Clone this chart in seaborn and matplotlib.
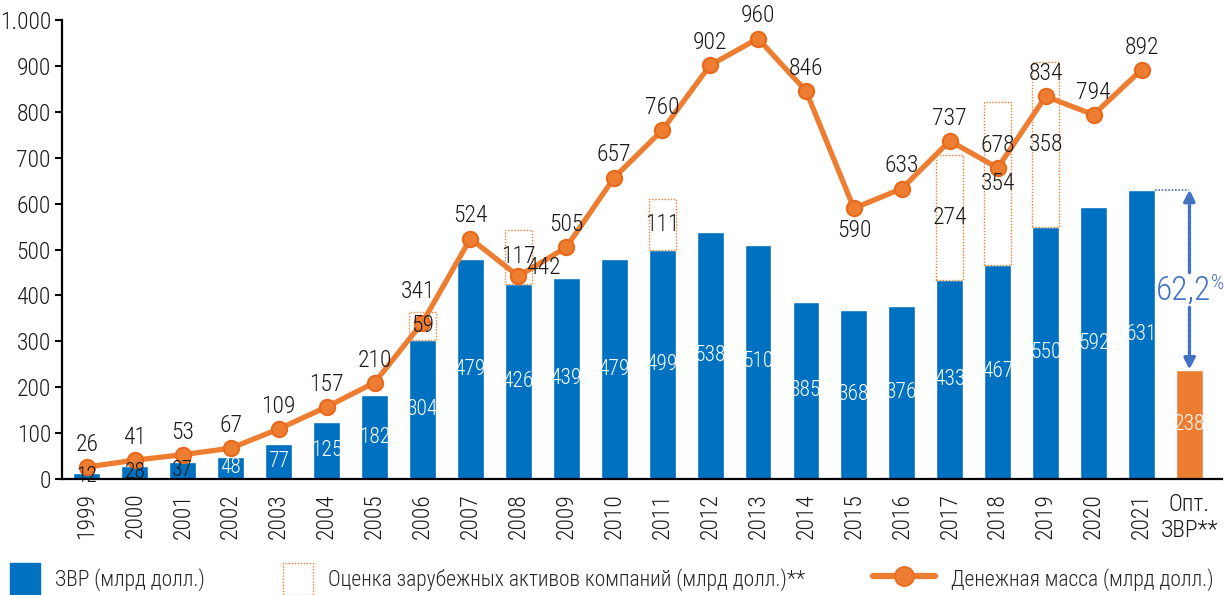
import matplotlib
matplotlib.use("Agg")
import matplotlib.pyplot as plt
from matplotlib.lines import Line2D
from matplotlib.patches import Patch, Rectangle
from matplotlib.ticker import FuncFormatter
import seaborn as sns
import pandas as pd

# Categories (years plus the optimal reserves bar)
categories = ["1999", "2000", "2001", "2002", "2003", "2004", "2005", "2006", "2007",
              "2008", "2009", "2010", "2011", "2012", "2013", "2014", "2015", "2016",
              "2017", "2018", "2019", "2020", "2021", "Опт.\nЗВР**"]
# International reserves, bn USD (last value = optimal reserves)
reserves = [12, 28, 37, 48, 77, 125, 182, 304, 479, 426, 439, 479, 499, 538, 510,
            385, 368, 376, 433, 467, 550, 592, 631, 238]
# Money supply, bn USD (1999-2021)
money = [26, 41, 53, 67, 109, 157, 210, 341, 524, 442, 505, 657, 760, 902, 960,
         846, 590, 633, 737, 678, 834, 794, 892]
# Estimated foreign assets of companies, bn USD
asset_years = ["2006", "2008", "2011", "2017", "2018", "2019"]
asset_values = [59, 117, 111, 274, 354, 358]
opt_share = "62,2"

BLUE = "#0070C0"
ORANGE = "#ED7D31"
ORANGE_EDGE = "#E8691C"
ARROW = "#4472C4"
INK = "#1a1a1a"

sns.set_theme(style="white")
plt.rcParams["font.family"] = ["Roboto Condensed", "DejaVu Sans"]
plt.rcParams["font.weight"] = 300
FS = 17

fig = plt.figure(figsize=(12.25, 5.95), dpi=100)
ax = fig.add_axes([0.0506, 0.195, 0.9470, 0.771])

df = pd.DataFrame({"cat": categories, "val": reserves})
palette = [BLUE] * (len(categories) - 1) + [ORANGE]
sns.barplot(data=df, x="cat", y="val", hue="cat", palette=palette, legend=False,
            width=0.56, saturation=1, ax=ax, zorder=2)

pos = {c: i for i, c in enumerate(categories)}

# Dotted boxes for company foreign assets, stacked on top of reserves
for yr, v in zip(asset_years, asset_values):
    i = pos[yr]
    base = reserves[i]
    ax.add_patch(Rectangle((i - 0.28, base), 0.56, v, fill=False, edgecolor=ORANGE,
                           linestyle=(0, (1, 1.2)), linewidth=1.0, zorder=3))
    ax.text(i, base + v / 2, str(v), ha="center", va="center", fontsize=FS,
            color=INK, zorder=6)

# Money supply line
line_df = pd.DataFrame({"x": list(range(len(money))), "y": money})
sns.lineplot(data=line_df, x="x", y="y", color=ORANGE, linewidth=3.8, marker="o",
             markersize=11, markerfacecolor=ORANGE, markeredgecolor=ORANGE_EDGE,
             markeredgewidth=1.5, sort=False, ax=ax, zorder=5)

# Money supply labels
for i, v in enumerate(money):
    dx, dy, va = 0, 8, "bottom"
    if categories[i] == "2008":
        dx, dy, va = 18, 6, "center"
    elif categories[i] == "2015":
        dx, dy, va = 0, -8, "top"
    elif categories[i] == "2006":
        dx, dy = -3, 14
    ax.annotate(str(v), (i, v), xytext=(dx, dy), textcoords="offset points",
                ha="center", va=va, fontsize=FS, color=INK, zorder=6)

# Reserves labels
for i, v in enumerate(reserves):
    col = INK if v < 40 else "white"
    ax.text(i, v / 2, str(v), ha="center", va="center", fontsize=15.5,
            color=col, zorder=6)

# Gap between 2021 reserves and optimal level
i21 = pos["2021"]
iopt = pos[categories[-1]]
top_v, low_v = reserves[i21], reserves[iopt]
ax.plot([i21 + 0.28, iopt], [top_v, top_v], color=ARROW,
        linestyle=(0, (1, 1)), linewidth=1.2, zorder=4)
txt_v = 410
for tail, head in ((txt_v + 40, top_v), (txt_v - 36, low_v)):
    ax.annotate("", xy=(iopt, head), xytext=(iopt, tail),
                arrowprops=dict(arrowstyle="-|>", color=ARROW, linestyle=(0, (1, 0.6)),
                                linewidth=2.4, mutation_scale=17, shrinkA=0, shrinkB=0))
ax.annotate(opt_share, (iopt, txt_v), xytext=(-4, 0), textcoords="offset points",
            ha="center", va="center", fontsize=24, color=ARROW)
ax.annotate("%", (iopt, txt_v), xytext=(15.5, 5), textcoords="offset points",
            ha="left", va="center", fontsize=15, color=ARROW)

# Axes
ax.set_xlim(-0.52, len(categories) - 0.32)
ax.set_ylim(0, 1000)
ax.set_yticks(range(0, 1001, 100))
ax.yaxis.set_major_formatter(FuncFormatter(lambda v, p: f"{int(v):,}".replace(",", ".")))
ax.set_xticks(range(len(categories)))
ax.set_xticklabels(categories)
for lab in ax.get_xticklabels():
    lab.set_rotation(90)
    lab.set_va("top")
    lab.set_ha("center")
ax.get_xticklabels()[-1].set_rotation(0)
ax.set_xlabel("")
ax.set_ylabel("")
ax.tick_params(axis="y", length=5, width=1.5, color="black", labelsize=FS,
               labelcolor=INK, pad=3, left=True)
ax.tick_params(axis="x", length=0, labelsize=FS, labelcolor=INK, pad=10)
for s in ["top", "right"]:
    ax.spines[s].set_visible(False)
for s in ["left", "bottom"]:
    ax.spines[s].set_color("black")
    ax.spines[s].set_linewidth(1.6)

# Legend
LFS = 15.5
h1 = Patch(facecolor=BLUE, edgecolor=BLUE)
h2 = Patch(facecolor="white", edgecolor=ORANGE, linestyle=(0, (1, 1.2)), linewidth=1.0)
h3 = Line2D([0], [0], color=ORANGE, linewidth=4.5, marker="o", markersize=14,
            markerfacecolor=ORANGE, markeredgecolor=ORANGE_EDGE)
common = dict(frameon=False, fontsize=LFS, handleheight=1.9, handlelength=1.4,
              borderpad=0, borderaxespad=0, handletextpad=0.7, loc="center left")
fig.legend([h1], ["ЗВР (млрд долл.)"], bbox_to_anchor=(0.008, 0.027), **common)
fig.legend([h2], ["Оценка зарубежных активов компаний (млрд долл.)**"],
           bbox_to_anchor=(0.231, 0.027), **common)
common3 = dict(common)
common3["handlelength"] = 2.9
common3["handleheight"] = 1.4
fig.legend([h3], ["Денежная масса (млрд долл.)"], bbox_to_anchor=(0.7127, 0.027),
           **common3)

fig.savefig("out.png", dpi=100)
